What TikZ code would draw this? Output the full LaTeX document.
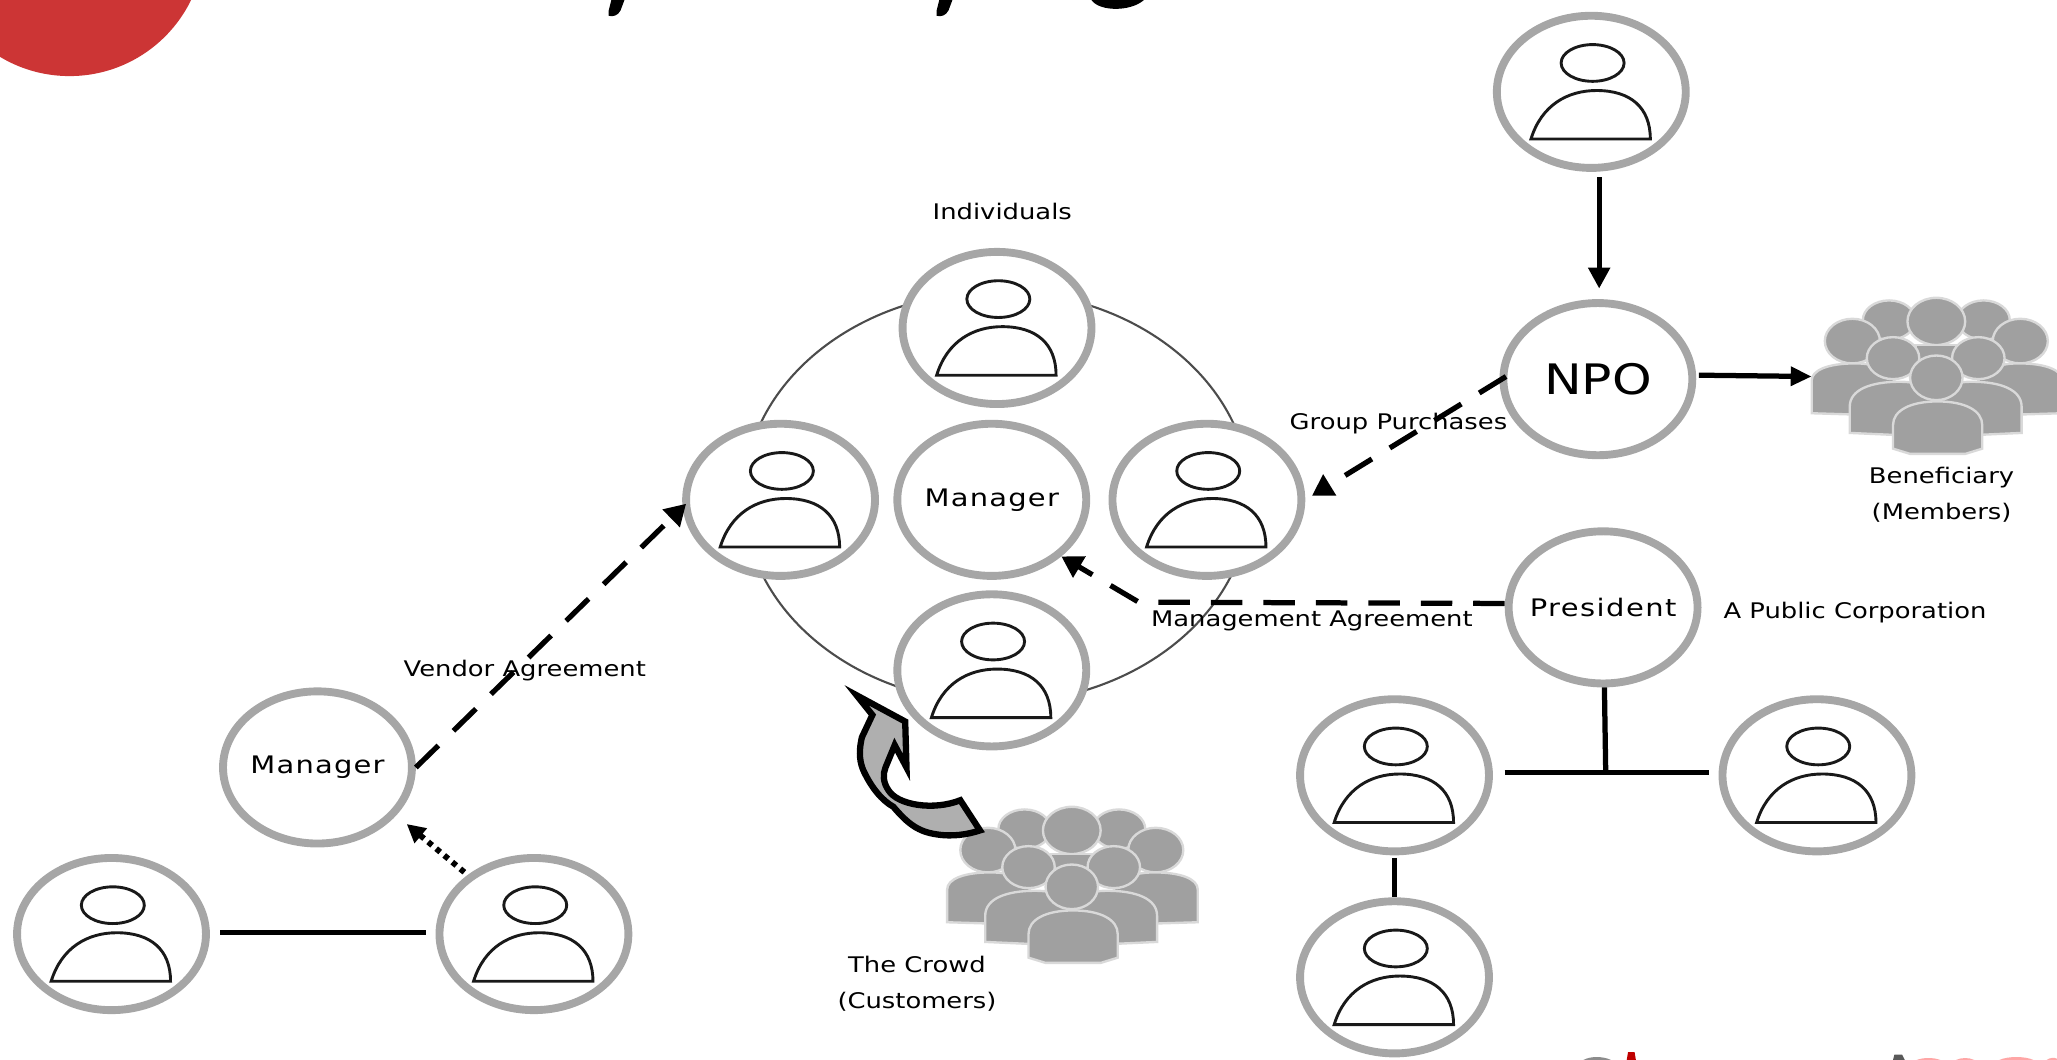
\documentclass[tikz,border=0pt]{standalone}
\usepackage{fontspec}
\setmainfont[FakeStretch=1.2]{DejaVu Sans}
\usetikzlibrary{arrows.meta,calc,shapes.geometric}
\definecolor{ring}{HTML}{A6A6A6}
\definecolor{blob}{HTML}{A0A0A0}
\definecolor{logored}{HTML}{CC3535}
\tikzset{
  ringnode/.style={ellipse,draw=ring,line width=3pt,fill=white,minimum width=72pt,minimum height=58pt,inner sep=0pt,font=\fontsize{9.2}{11}\selectfont},
  lbl/.style={inner sep=0pt,font=\fontsize{8.2}{13.5}\selectfont,align=center},
  conn/.style={draw=black,line width=2pt},
  dashconn/.style={conn,dash pattern=on 12pt off 8pt,-{Triangle[length=8pt,width=9pt]}},
  pplbody/.style={draw=black!90,line width=1.1pt,fill=white},
}
\newcommand{\nodetext}[1]{\raisebox{-1.5pt}{\makebox[0pt][c]{#1}}}
\newcommand{\personicon}[1]{%
  \begin{scope}[shift={(#1)}]
    \draw[pplbody] (1,-22) ellipse (24 and 14);
    \draw[pplbody] (-46,36) .. controls (-38,10) and (-18,-1) .. (4,-1) .. controls (30,-1) and (45,12) .. (45,36) -- cycle;
  \end{scope}}
\newcommand{\crowdicon}[1]{%
  \begin{scope}[shift={(#1)}]
    \tikzset{cb/.style={fill=blob,draw=white!85!black,line width=.9pt}}
    \path[cb] (-36,-44) ellipse (20 and 15);
    \path[cb] (36,-44) ellipse (20 and 15);
    \path[cb] (0,-43) ellipse (22 and 18);
    \path[cb] (-64,-28) ellipse (21 and 17);
    \path[cb] (64,-28) ellipse (21 and 17);
    \path[cb] (-95,27) -- (-95,2) .. controls (-95,-6) and (-82,-11) .. (-62,-11) .. controls (-42,-11) and (-30,-4) .. (-30,12) -- (-30,29) -- cycle;
    \path[cb] (96,27) -- (96,2) .. controls (96,-6) and (83,-11) .. (63,-11) .. controls (43,-11) and (30,-4) .. (30,12) -- (30,29) -- cycle;
    \path[cb] (-16,-25) rectangle (16,-12);
    \path[cb] (-33,-15) ellipse (20 and 16);
    \path[cb] (32,-15) ellipse (20 and 16);
    \path[cb] (-66,42) -- (-66,22) .. controls (-66,9) and (-50,3) .. (-28,3) .. controls (-8,3) and (0,10) .. (0,25) -- (0,45) -- cycle;
    \path[cb] (65,42) -- (65,22) .. controls (65,9) and (49,3) .. (27,3) .. controls (8,3) and (0,10) .. (0,25) -- (0,45) -- cycle;
    \path[cb] (0,0) ellipse (20 and 17);
    \path[cb] (-33,54) -- (-33,36) .. controls (-33,25) and (-20,18) .. (1,18) .. controls (22,18) and (35,25) .. (35,36) -- (35,54) -- (22,58) -- (-20,58) -- cycle;
  \end{scope}}
\begin{document}
\begin{tikzpicture}[x=.5pt,y=-.5pt]
\useasboundingbox (0,0) rectangle (1568,808);
\begin{scope}
\clip (0,0) rectangle (1568,808);
\fill[logored] (53,-45) circle (103);
\fill[black] (466,0) -- (476,0) -- (473,8) .. controls (471,12) and (467,13) .. (464,12) -- (464,8) -- cycle;
\fill[black] (716,0) -- (726,0) -- (723,8) .. controls (721,12) and (717,13) .. (714,12) -- (714,8) -- cycle;
\fill[black] (832,0) .. controls (838,9) and (862,9) .. (872,0) -- cycle;
\fill[red!75!black] (1240,808) -- (1241,802) -- (1246,802) -- (1247,808) -- cycle;
\fill[black!45] (1207,808) .. controls (1212,805) and (1222,805) .. (1228,808) -- cycle;
\fill[black!65] (1443,808) -- (1444,804) -- (1450,804) -- (1452,808) -- cycle;
\fill[red!35] (1461,808) .. controls (1466,806) and (1474,806) .. (1479,808) -- cycle;
\fill[red!35] (1491,808) .. controls (1495,806) and (1501,806) .. (1505,808) -- cycle;
\fill[red!35] (1524,808) .. controls (1530,805) and (1544,805) .. (1550,808) -- cycle;
\fill[red!35] (1560,808) .. controls (1563,806) and (1566,806) .. (1568,807) -- (1568,808) -- cycle;
\end{scope}
\draw[black!70,line width=.8pt] (760,379) ellipse (193 and 157);
\node[ringnode] (ptop) at (1213,70) {};
\node[ringnode] (npo) at (1218,289) {\nodetext{\fontsize{16}{18}\selectfont NPO}};
\node[ringnode] (pres) at (1222,463) {\nodetext{\addfontfeature{LetterSpace=6}President}};
\node[ringnode] (itop) at (760,250) {};
\node[ringnode] (ileft) at (595,381) {};
\node[ringnode] (mgr) at (756,381) {\nodetext{\addfontfeature{LetterSpace=5}Manager}};
\node[ringnode] (iright) at (920,381) {};
\node[ringnode] (ibot) at (756,511) {};
\node[ringnode] (cleft) at (1063,591) {};
\node[ringnode] (cright) at (1385,591) {};
\node[ringnode] (cbot) at (1063,745) {};
\node[ringnode] (mleft) at (242,585) {\nodetext{\addfontfeature{LetterSpace=5}Manager}};
\node[ringnode] (pleft) at (85,712) {};
\node[ringnode] (pright) at (407,712) {};
\personicon{1213,70}
\personicon{760,250}
\personicon{595,381}
\personicon{920,381}
\personicon{756,511}
\personicon{1063,591}
\personicon{1385,591}
\personicon{1063,745}
\personicon{85,712}
\personicon{407,712}
\crowdicon{1476,288}
\crowdicon{817,676}
\coordinate (benef) at (1381,287);
\draw[conn,-{Triangle[length=8pt,width=8pt]}] (ptop.south) ++(6,4) -- ($(npo.north)+(1,-8)$);
\draw[conn,-{Triangle[length=8pt,width=7pt]}] (npo.east) ++(2,-3) -- (benef);
\draw[dashconn] (mleft.east) ++(0,0) -- ($(ileft.west)+(3,3)$);
\draw[dashconn] (npo.west) ++(5,-2) -- ($(iright.east)+(5,-3)$);
\coordinate (bend) at (868,459);
\draw[dashconn] (pres.west) ++(0,-3) -- (bend) -- (mgr.south east);
\draw[conn,dotted,line width=2.2pt,-{Triangle[length=7pt,width=7pt]}] (pright.north west) ++(0,-4) -- ($(mleft.south east)+(15,0)$);
\draw[conn] (pleft.east) ++(8,-1) -- ($(pright.west)+(-7,-1)$);
\coordinate (tee) at (1224,589);
\draw[conn] (pres.south) ++(1,0) -- (tee);
\draw[conn] (cleft.east) ++(9,-2) -- ($(cright.west)+(-7,-2)$);
\draw[conn] (cleft.south) ++(0,2) -- (cbot.north);
\draw[draw=black,line width=2.4pt,line join=miter,fill=ring!90] (732,610) .. controls (712,618) and (684,614) .. (677,602) .. controls (673,596) and (673,590) .. (675,585) -- (682,568) -- (691,585) -- (690,550) -- (653,530) -- (665,545) -- (657,562) .. controls (654,575) and (656,582) .. (658,587) .. controls (664,600) and (672,610) .. (681,615) .. controls (692,628) and (700,634) .. (714,636) .. controls (726,638) and (738,636) .. (747,633) -- cycle;
\node[lbl] (lind) at (764,161) {Individuals};
\node[lbl] (lvend) at (400,511) {Vendor Agreement};
\node[lbl] (lgrp) at (1066,323) {Group Purchases};
\node[lbl] (lmgt) at (1000,473) {Management Agreement};
\node[lbl] (lpub) at (1414,467) {A Public Corporation};
\node[lbl] (lben) at (1480,377) {Beneficiary\\(Members)};
\node[lbl] (lcrd) at (699,750) {The Crowd\\(Customers)};
\end{tikzpicture}
\end{document}
